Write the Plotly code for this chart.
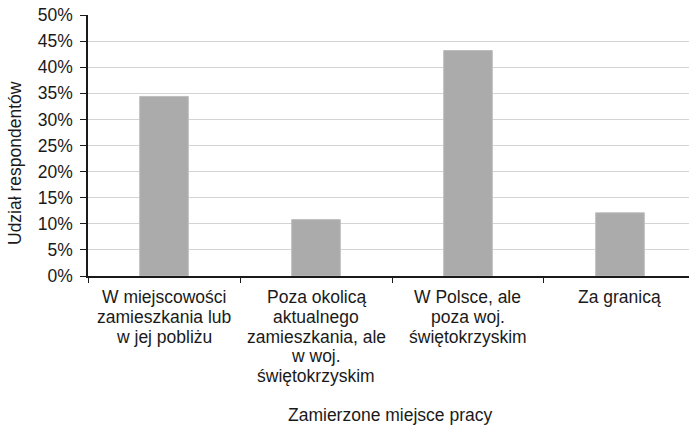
import plotly.graph_objects as go

categories = [
    "W miejscowości<br>zamieszkania lub<br>w jej pobliżu",
    "Poza okolicą<br>aktualnego<br>zamieszkania, ale<br>w woj.<br>świętokrzyskim",
    "W Polsce, ale<br>poza woj.<br>świętokrzyskim",
    "Za granicą",
]
values = [0.344, 0.108, 0.432, 0.121]
y_ticks = [0, 0.05, 0.10, 0.15, 0.20, 0.25, 0.30, 0.35, 0.40, 0.45, 0.50]

W, H = 689, 425
L, R, T, B = 88, 0, 15, 149
PH = H - T - B
PW = W - L - R
FS = 17.5
font = "Liberation Sans, Arial, sans-serif"
col = "#1a1a1a"


def py(Y):
    return (H - B - Y) / PH


fig = go.Figure(go.Bar(
    x=categories, y=values,
    marker=dict(color="#ababab", line=dict(color="#bdbdbd", width=1)),
    width=0.32,
))

annotations = []
for cat in categories:
    for i, line in enumerate(cat.split("<br>")):
        annotations.append(dict(
            text=line, xref="x", yref="paper", x=cat, y=py(297 + 19.8 * i),
            xanchor="center", yanchor="middle", showarrow=False,
            font=dict(size=FS, family=font, color=col)))

annotations += [
    dict(text="Zamierzone miejsce pracy", xref="paper", yref="paper",
         x=(390 - L) / PW, y=py(415),
         xanchor="center", yanchor="middle", showarrow=False,
         font=dict(size=FS, family=font, color=col)),
    dict(text="Udział respondentów", xref="paper", yref="paper",
         x=-(L - 15) / PW, y=py(163),
         xanchor="center", yanchor="middle", showarrow=False, textangle=-90,
         font=dict(size=FS, family=font, color=col)),
]

fig.update_layout(
    width=W, height=H,
    margin=dict(l=L, r=R, t=T, b=B),
    paper_bgcolor="white", plot_bgcolor="white",
    showlegend=False,
    font=dict(family=font, size=FS, color=col),
    xaxis=dict(
        range=[-0.5, 3.454],
        showline=True, linecolor=col, linewidth=1.5,
        ticks="outside", tickson="boundaries", ticklen=5, tickcolor=col,
        showgrid=False, showticklabels=False,
    ),
    yaxis=dict(
        range=[0, 0.5], tickvals=y_ticks, tickformat=".0%",
        showline=True, linecolor=col, linewidth=1.5,
        ticks="outside", ticklen=6, tickcolor=col,
        showgrid=True, gridcolor="#d4d4d4", gridwidth=1.3,
        zeroline=False, ticklabelstandoff=4, ticklabeloverflow="allow",
        tickfont=dict(size=FS, family=font, color=col),
    ),
    annotations=annotations,
)

fig.write_html(
    "out.html",
    config={"displayModeBar": False},
    post_script="document.body.style.margin='0';document.body.style.overflow='hidden';",
)
